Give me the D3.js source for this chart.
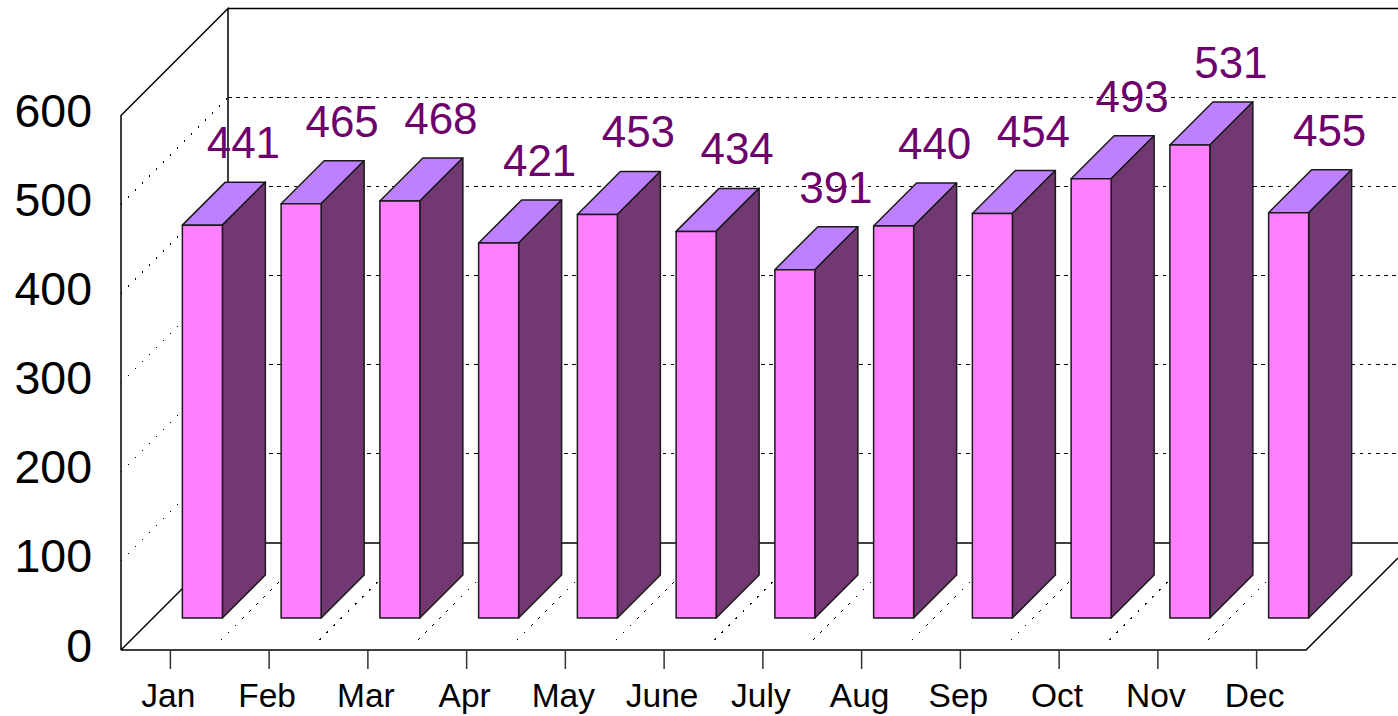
<!DOCTYPE html>
<html>
<head>
<meta charset="utf-8">
<script src="https://cdn.jsdelivr.net/npm/d3@7"></script>
<style>
  html, body { margin: 0; padding: 0; background: #fff; }
  svg { display: block; }
  text { font-family: "Liberation Sans", Arial, sans-serif; }
</style>
</head>
<body>
<div id="chart"></div>
<script>
const months = ["Jan", "Feb", "Mar", "Apr", "May", "June", "July", "Aug", "Sep", "Oct", "Nov", "Dec"];
const counts = [441, 465, 468, 421, 453, 434, 391, 440, 454, 493, 531, 455];
const yTicks = [0, 100, 200, 300, 400, 500, 600];

const width = 1398;
const height = 716;

// front plane of the box, the back wall sits boxDepth px up and to the right
const plotLeft = 121;
const plotRight = 1306;
const plotBottom = 650;
const plotTop = 115.5;
const boxDepth = 107;
const barOffset = 32;   // how far the bars sit behind the front plane
const barDepth = 43;
const barWidth = 40;

const x = d3.scaleBand().domain(months).range([plotLeft, plotRight]);
const y = d3.scaleLinear().domain([0, 600]).range([plotBottom, plotTop]);

const svg = d3.select("#chart").append("svg")
  .attr("width", width)
  .attr("height", height)
  .attr("viewBox", [0, 0, width, height]);

// back wall gridlines
svg.append("g")
  .attr("stroke", "#000")
  .attr("stroke-dasharray", "3.5 4.7")
  .attr("shape-rendering", "crispEdges")
  .selectAll("line")
  .data(yTicks.slice(1, -1))
  .join("line")
  .attr("x1", plotLeft + boxDepth)
  .attr("x2", width)
  .attr("y1", d => y(d) - boxDepth)
  .attr("y2", d => y(d) - boxDepth);

// side wall gridlines
svg.append("g")
  .attr("stroke", "#000")
  .attr("stroke-dasharray", "1.5 8.4")
  .attr("shape-rendering", "crispEdges")
  .selectAll("line")
  .data(yTicks.slice(1, -1))
  .join("line")
  .attr("x1", plotLeft)
  .attr("x2", plotLeft + boxDepth)
  .attr("y1", d => y(d))
  .attr("y2", d => y(d) - boxDepth);

// floor gridlines, these start a bit behind the front edge
svg.append("g")
  .attr("stroke", "#000")
  .attr("stroke-dasharray", "2 8")
  .attr("shape-rendering", "crispEdges")
  .selectAll("line")
  .data(months.slice(1))
  .join("line")
  .attr("x1", d => x(d) + 1)
  .attr("x2", d => x(d) + 98)
  .attr("y1", plotBottom - 10)
  .attr("y2", plotBottom - boxDepth);

// box outline
const outline = d3.line();
const frame = [
  [[plotLeft, plotBottom], [plotLeft, plotTop], [plotLeft + boxDepth, plotTop - boxDepth], [plotLeft + boxDepth, plotBottom - boxDepth]],
  [[plotLeft + boxDepth, plotTop - boxDepth], [width, plotTop - boxDepth]],
  [[plotLeft + boxDepth, plotBottom - boxDepth], [width, plotBottom - boxDepth]],
  [[plotLeft, plotBottom], [plotLeft + boxDepth, plotBottom - boxDepth]],
  [[plotLeft, plotBottom], [plotRight, plotBottom], [width, plotBottom - (width - plotRight)]]
];
svg.append("g")
  .attr("fill", "none")
  .attr("stroke", "#000")
  .attr("stroke-width", 1.5)
  .selectAll("path")
  .data(frame)
  .join("path")
  .attr("d", d => outline(d));

// bars, each one is three faces
const data = months.map((m, i) => ({ month: m, value: counts[i] }));
const bars = svg.append("g")
  .attr("stroke", "#1a1a1a")
  .attr("stroke-width", 1.5)
  .attr("stroke-linejoin", "round")
  .selectAll("g")
  .data(data)
  .join("g")
  .attr("transform", d => `translate(${x(d.month) + x.bandwidth() / 2 + barOffset - barWidth / 2},${-barOffset})`);

bars.append("path")
  .attr("fill", "#bd80ff")
  .attr("d", d => outline([
    [0, y(d.value)], [barWidth, y(d.value)],
    [barWidth + barDepth, y(d.value) - barDepth], [barDepth, y(d.value) - barDepth]
  ]) + "Z");

bars.append("path")
  .attr("fill", "#723872")
  .attr("d", d => outline([
    [barWidth, y(d.value)], [barWidth + barDepth, y(d.value) - barDepth],
    [barWidth + barDepth, y(0) - barDepth], [barWidth, y(0)]
  ]) + "Z");

bars.append("rect")
  .attr("fill", "#ff80ff")
  .attr("x", 0)
  .attr("y", d => y(d.value))
  .attr("width", barWidth)
  .attr("height", d => y(0) - y(d.value));

// value labels
bars.append("text")
  .attr("x", barWidth / 2 + 41)
  .attr("y", d => y(d.value) - barDepth - 24)
  .attr("text-anchor", "middle")
  .attr("font-size", 44)
  .attr("fill", "#6e006e")
  .attr("stroke", "none")
  .text(d => d.value);

// y axis labels
svg.append("g")
  .attr("text-anchor", "end")
  .attr("font-size", 46.5)
  .attr("fill", "#000")
  .selectAll("text")
  .data(yTicks)
  .join("text")
  .attr("x", 92)
  .attr("y", d => y(d) + 11.5)
  .text(d => d);

// x axis ticks and labels
svg.append("g")
  .attr("stroke", "#333")
  .attr("stroke-width", 1.5)
  .selectAll("line")
  .data(months)
  .join("line")
  .attr("x1", d => x(d) + x.bandwidth() / 2)
  .attr("x2", d => x(d) + x.bandwidth() / 2)
  .attr("y1", plotBottom)
  .attr("y2", plotBottom + 19);

svg.append("g")
  .attr("text-anchor", "middle")
  .attr("font-size", 33.5)
  .attr("fill", "#000")
  .selectAll("text")
  .data(months)
  .join("text")
  .attr("x", d => x(d) + x.bandwidth() / 2 - 2)
  .attr("y", 707)
  .text(d => d);
</script>
</body>
</html>
